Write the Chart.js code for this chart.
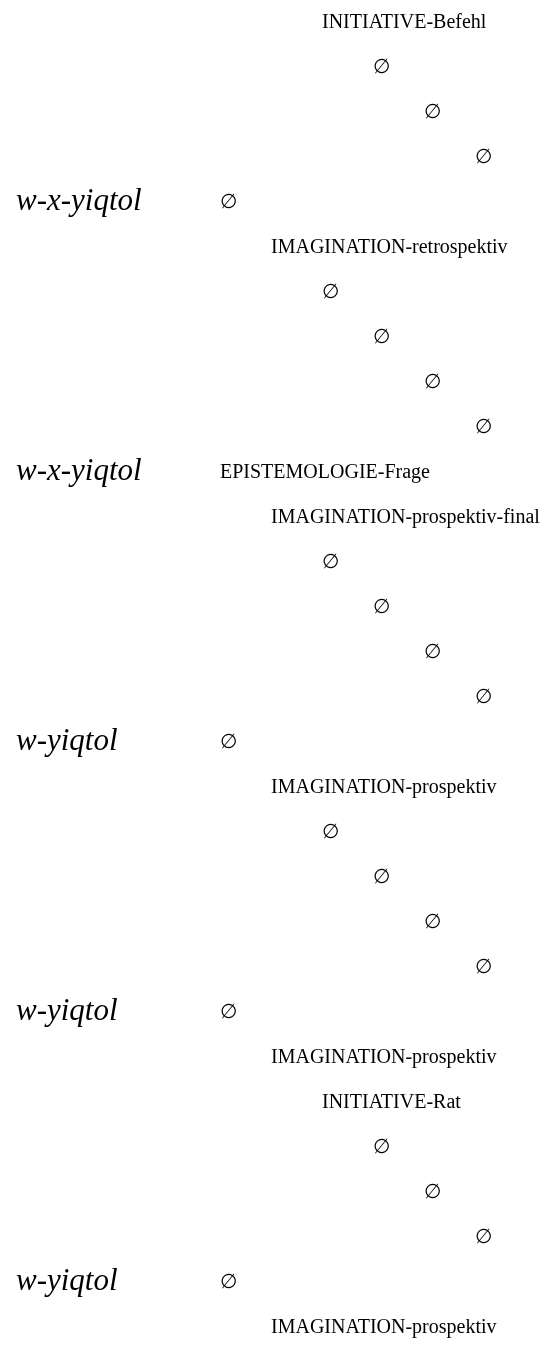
<!DOCTYPE html>
<html>
<head>
<meta charset="utf-8">
<script src="https://cdn.jsdelivr.net/npm/chart.js@4/dist/chart.umd.min.js"></script>
<style>
  html,body{margin:0;padding:0;background:#fff;}
  #wrap{width:549px;height:1346px;position:relative;}
</style>
</head>
<body>
<div id="wrap"><canvas id="tree"></canvas></div>
<script>
/* ====== データ（行ごと：上から下へ） ====== */
const nodeLabels = [
  "INITIATIVE-Befehl","∅","∅","∅",
  "∅","IMAGINATION-retrospektiv","∅","∅","∅","∅",
  "EPISTEMOLOGIE-Frage","IMAGINATION-prospektiv-final","∅","∅","∅","∅",
  "∅","IMAGINATION-prospektiv","∅","∅","∅","∅",
  "∅","IMAGINATION-prospektiv","INITIATIVE-Rat","∅","∅","∅",
  "∅","IMAGINATION-prospektiv"
];
const nodeLevels = [3,4,5,6, 1,2,3,4,5,6, 1,2,3,4,5,6, 1,2,3,4,5,6, 1,2,3,4,5,6, 1,2];

const clauseLabels = ["w-x-yiqtol","w-x-yiqtol","w-yiqtol","w-yiqtol","w-yiqtol"];
const clauseRows = [4,10,16,22,28];   // 0-based row index

/* ====== Helper ====== */
const qs = s => document.querySelector(s);
const SERIF = '"Liberation Serif","Times New Roman",serif';
const ROW_PX = 45, FIRST_ROW_PX = 21, LEVEL_PX = 51, LEFT_PAD = 16;
const H = 1346, W = 549;

const nodePoints = nodeLevels.map((lv,i)=>({x:lv, y:i}));
const clausePoints = clauseRows.map(r=>({x:-3, y:r}));

/* テキスト描画プラグイン */
const textMarks = {
  id:'textMarks',
  afterDatasetsDraw(chart){
    const ctx = chart.ctx;
    chart.data.datasets.forEach((ds,di)=>{
      const meta = chart.getDatasetMeta(di);
      ctx.save();
      ctx.fillStyle = '#000';
      ctx.textAlign = 'left';
      ctx.textBaseline = 'alphabetic';
      ctx.font = ds.fontStyle;
      meta.data.forEach((pt,i)=>{
        ctx.fillText(ds.texts[i], pt.x, pt.y + ds.baseShift);
      });
      ctx.restore();
    });
  }
};

new Chart(qs('#tree'), {
  type:'scatter',
  data:{
    datasets:[
      {label:'nodes', data:nodePoints, texts:nodeLabels,
       fontStyle:'20px '+SERIF, baseShift:6.6, pointRadius:0, pointHoverRadius:0},
      {label:'clauses', data:clausePoints, texts:clauseLabels,
       fontStyle:'italic 31px '+SERIF, baseShift:9, pointRadius:0, pointHoverRadius:0}
    ]
  },
  options:{
    responsive:true, maintainAspectRatio:false, animation:false,
    layout:{padding:{left:LEFT_PAD,right:0,top:0,bottom:0}},
    plugins:{legend:{display:false}, tooltip:{enabled:false}},
    events:[],
    scales:{
      x:{type:'linear', display:false, min:-3, max:-3 + (W-LEFT_PAD)/LEVEL_PX},
      y:{type:'linear', display:false, reverse:true,
         min:-FIRST_ROW_PX/ROW_PX, max:-FIRST_ROW_PX/ROW_PX + H/ROW_PX}
    }
  },
  plugins:[textMarks]
});
</script>
</body>
</html>
